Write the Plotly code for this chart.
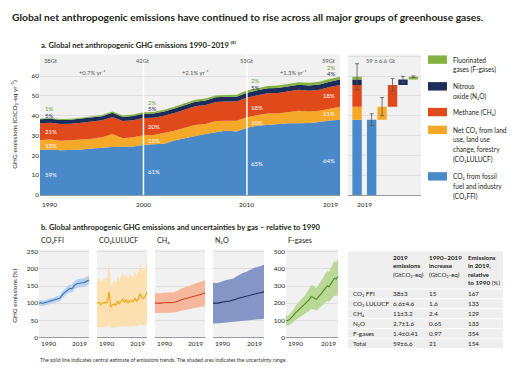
import plotly.graph_objects as go

# ---------------- data ----------------
years = list(range(1990, 2020))

co2_ffi = [22.7, 22.9, 22.6, 22.7, 22.9, 23.4, 23.9, 24.2, 24.3, 24.5,
           25.3, 25.6, 25.9, 27.5, 28.8, 29.8, 30.8, 31.8, 32.5, 32.1,
           34.0, 35.0, 35.5, 35.9, 36.2, 36.2, 36.3, 36.8, 37.6, 38.0]
co2_lulucf = [5.0, 5.1, 4.8, 4.9, 5.1, 5.0, 5.2, 6.6, 4.4, 4.7,
              4.9, 4.7, 5.3, 4.9, 5.2, 5.6, 5.1, 5.5, 5.0, 5.4,
              5.3, 5.2, 5.7, 5.3, 5.6, 6.4, 5.8, 5.7, 6.0, 6.6]
ch4 = [8.5, 8.5, 8.5, 8.4, 8.5, 8.6, 8.6, 8.6, 8.6, 8.6,
       8.7, 8.7, 8.8, 9.0, 9.2, 9.4, 9.5, 9.6, 9.7, 9.7,
       9.9, 10.0, 10.2, 10.3, 10.4, 10.5, 10.6, 10.7, 10.9, 11.0]
n2o = [2.03, 2.02, 2.02, 2.03, 2.06, 2.09, 2.12, 2.13, 2.14, 2.14,
       2.16, 2.18, 2.20, 2.26, 2.30, 2.33, 2.36, 2.40, 2.42, 2.43,
       2.48, 2.52, 2.54, 2.57, 2.60, 2.61, 2.63, 2.65, 2.68, 2.70]
f_gases = [0.40, 0.39, 0.42, 0.45, 0.50, 0.56, 0.60, 0.64, 0.67, 0.70,
           0.74, 0.78, 0.82, 0.88, 0.95, 0.94, 0.91, 0.89, 0.94, 0.98,
           1.04, 1.10, 1.14, 1.20, 1.18, 1.24, 1.32, 1.38, 1.36, 1.42]

# labels of panel a
share_years = [1990, 2000, 2010, 2019]
total_labels = [38, 42, 53, 59]
growth_rates = ["+0.7", "+2.1", "+1.3"]
share_ffi = [59, 61, 65, 64]
share_lulucf = [13, 12, 10, 11]
share_ch4 = [21, 20, 18, 18]
share_n2o = [5, 5, 5, 4]
share_f = [1, 2, 2, 2]

# 2019 values / table
table_gases = ["CO₂ FFI", "CO₂ LULUCF", "CH₄", "N₂O", "F-gases", "Total"]
emis_2019 = [38, 6.6, 11, 2.7, 1.4]
unc_2019 = [3, 4.6, 3.2, 1.6, 0.41]
total_2019 = 59
total_unc = 6.6
increase = ["15", "1.6", "2.4", "0.65", "0.97", "21"]
rel_1990 = [167, 133, 129, 133, 354, 154]

gas_titles = ["CO₂FFI", "CO₂LULUCF", "CH₄", "N₂O", "F-gases"]
legend_lines = [
    ["Fluorinated", "gases (F-gases)"],
    ["Nitrous", "oxide (N₂O)"],
    ["Methane (CH₄)"],
    ["Net CO₂ from land", "use, land use", "change, forestry", "(CO₂LULUCF)"],
    ["CO₂ from fossil", "fuel and industry", "(CO₂FFI)"],
]

# ---------------- style ----------------
W, H = 520, 378
FONT = "Lato"
TXT = "#231f20"
GRID = "#dedede"
BG = "#f1f1f1"
C_FFI, C_LUL, C_CH4, C_N2O, C_F = "#4a89c8", "#f6a828", "#e04a1b", "#1c2c5b", "#84b13f"
band_cols = ["#b9d1ec", "#fde0b0", "#f6b89c", "#8596c6", "#bad896"]
line_cols = ["#3a6fb5", "#f2a100", "#d4441a", "#1c2c5b", "#4e8a23"]


def fx(px):
    return px / W


def fy(py):
    return 1 - py / H


series = [co2_ffi, co2_lulucf, ch4, n2o, f_gases]
colors = [C_FFI, C_LUL, C_CH4, C_N2O, C_F]

fig = go.Figure()

# ---------------- panel a: stacked area ----------------
for vals, col in zip(series, colors):
    fig.add_trace(go.Scatter(x=years, y=vals, stackgroup="a", mode="lines",
                             line=dict(width=0, color=col), fillcolor=col,
                             showlegend=False, hoverinfo="skip",
                             xaxis="x", yaxis="y"))

# ---------------- panel a: waterfall ----------------
wf_pos = [0, 1.4, 2.4, 3.4, 4.4, 5.4]
for i, col in enumerate(colors):
    v = emis_2019[i]
    b = sum(emis_2019[:i])
    fig.add_trace(go.Bar(x=[wf_pos[0], wf_pos[i + 1]], y=[v, v], base=[b, b],
                         width=0.9, marker=dict(color=col, line=dict(width=0)),
                         showlegend=False, hoverinfo="skip",
                         xaxis="x2", yaxis="y2"))
tops = [sum(emis_2019)] + [sum(emis_2019[:i + 1]) for i in range(5)]
errs = [total_unc] + unc_2019
fig.add_trace(go.Scatter(x=wf_pos, y=tops, mode="markers",
                         marker=dict(size=1, color="rgba(0,0,0,0)"),
                         error_y=dict(type="data", array=errs, visible=True,
                                      color="#555555", thickness=0.8, width=2),
                         showlegend=False, hoverinfo="skip",
                         xaxis="x2", yaxis="y2"))

# ---------------- panel b ----------------
b_dom = [(39, 89), (97, 147), (155, 205), (213, 264), (286, 338)]
for k, vals in enumerate(series):
    ax = k + 3
    pct = [v / vals[0] * 100 for v in vals]
    u = unc_2019[k] / emis_2019[k]
    lo = [p * (1 - u) for p in pct]
    hi = [p * (1 + u) for p in pct]
    xa, ya = f"x{ax}", f"y{ax}"
    fig.add_trace(go.Scatter(x=years, y=lo, mode="lines", line=dict(width=0),
                             showlegend=False, hoverinfo="skip", xaxis=xa, yaxis=ya))
    fig.add_trace(go.Scatter(x=years, y=hi, mode="lines", line=dict(width=0),
                             fill="tonexty", fillcolor=band_cols[k],
                             showlegend=False, hoverinfo="skip", xaxis=xa, yaxis=ya))
    fig.add_trace(go.Scatter(x=years, y=pct, mode="lines",
                             line=dict(width=1.1, color=line_cols[k]),
                             showlegend=False, hoverinfo="skip", xaxis=xa, yaxis=ya))

# ---------------- axes ----------------
tickfont = dict(family=FONT, size=6.5, color=TXT)
top_dom = [fy(196), fy(54)]
b_ydom = [fy(340), fy(251)]
layout = dict(
    xaxis=dict(domain=[fx(40), fx(340)], range=[1990, 2019], showgrid=False,
               showticklabels=False, zeroline=False, showline=True,
               linecolor="#9a9a9a", linewidth=0.8, anchor="y", fixedrange=True),
    yaxis=dict(domain=top_dom, range=[0, 71], tickvals=list(range(0, 61, 10)),
               showgrid=True, gridcolor=GRID, gridwidth=0.7, zeroline=False,
               tickfont=tickfont, anchor="x", fixedrange=True),
    xaxis2=dict(domain=[fx(348), fx(421)], range=[-0.87, 6.13], showgrid=False,
                showticklabels=False, zeroline=False, showline=True,
                linecolor="#9a9a9a", linewidth=0.8, anchor="y2", fixedrange=True),
    yaxis2=dict(domain=top_dom, range=[0, 71], tickvals=list(range(0, 71, 10)),
                showgrid=True, gridcolor=GRID, gridwidth=0.7, zeroline=False,
                showticklabels=False, anchor="x2", fixedrange=True),
)
for k, (x0, x1) in enumerate(b_dom):
    ax = k + 3
    is_f = (k == 4)
    layout[f"xaxis{ax}"] = dict(domain=[fx(x0), fx(x1)], range=[1990, 2019],
                                showgrid=False, showticklabels=False, zeroline=False,
                                showline=True, linecolor="#9a9a9a", linewidth=0.8,
                                anchor=f"y{ax}", fixedrange=True)
    layout[f"yaxis{ax}"] = dict(domain=b_ydom,
                                range=[0, 514] if is_f else [0, 257],
                                tickvals=list(range(0, 501, 100)) if is_f else list(range(0, 251, 50)),
                                showticklabels=(k == 0 or is_f), tickfont=tickfont,
                                showgrid=True, gridcolor=GRID, gridwidth=0.7,
                                zeroline=False, anchor=f"x{ax}", fixedrange=True)

# ---------------- annotations ----------------
anns = []


def ann(text, x, y, size=6.5, color=TXT, xanchor="left", yanchor="middle",
        xref="paper", yref="paper", angle=0):
    if xref == "paper":
        x = fx(x)
    if yref == "paper":
        y = fy(y)
    anns.append(dict(text=text, x=x, y=y, xref=xref, yref=yref, xanchor=xanchor,
                     yanchor=yanchor, showarrow=False, textangle=angle,
                     font=dict(family=FONT, size=size, color=color)))


ann("<b>Global net anthropogenic emissions have continued to rise across all major groups of greenhouse gases.</b>",
    10, 16, size=10.3)
ann("<b>a. Global net anthropogenic GHG emissions 1990–2019 ⁽⁵⁾</b>", 39, 44, size=7.6)
ann("<b>b. Global anthropogenic GHG emissions and uncertainties by gas – relative to 1990</b>",
    39, 228, size=7.6)
ann("GHG emissions (GtCO₂-eq yr⁻¹)", 15, 125, size=6.5, xanchor="center", angle=-90)
ann("GHG emissions (%)", 15, 298, size=6.5, xanchor="center", angle=-90)
ann("The solid line indicates central estimate of emissions trends. The shaded area indicates the uncertainty range.",
    38, 363, size=5.2, color="#333333")

# panel a bottom ticks
for yr, anc in zip(share_years, ["left", "center", "center", "right"]):
    ann(str(yr), yr, 206, xref="x", xanchor=anc)
ann("2019", 0.7, 206, xref="x2", xanchor="center")

# panel a totals, rates, shares
for j, yr in enumerate(share_years):
    i = years.index(yr)
    f_, l_, c_, n_, g_ = (s[i] for s in series)
    tot = f_ + l_ + c_ + n_ + g_
    if j == 0:
        xl, anc, xt, anct = yr + 0.25, "left", yr + 0.2, "left"
    elif j == len(share_years) - 1:
        xl, anc, xt, anct = yr - 0.25, "right", yr - 0.2, "right"
    else:
        xl, anc, xt, anct = yr + 0.25, "left", yr, "center"
    ann(f"{total_labels[j]}Gt", xt, 68, size=5.8, color="#555555", xref="x", yref="y", xanchor=anct)
    ann(f"{share_ffi[j]}%", xl, 0.46 * f_, size=6, color="white", xref="x", yref="y", xanchor=anc)
    ann(f"{share_lulucf[j]}%", xl, f_ + l_ / 2, size=6, color="white", xref="x", yref="y", xanchor=anc)
    ann(f"{share_ch4[j]}%", xl, f_ + l_ + c_ / 2, size=6, color="white", xref="x", yref="y", xanchor=anc)
    ann(f"{share_n2o[j]}%", xl, tot + 1.7, size=6, color=C_N2O, xref="x", yref="y", xanchor=anc)
    ann(f"{share_f[j]}%", xl, tot + 4.9, size=6, color="#6aa132", xref="x", yref="y", xanchor=anc)
for j, r in enumerate(growth_rates):
    xm = (share_years[j] + share_years[j + 1]) / 2
    ann(f"{r}% yr⁻¹", xm, 62, size=5.8, color="#555555", xref="x", yref="y", xanchor="center")
ann(f"{total_2019} ± {total_unc} Gt", 381, 60, size=5.8, color="#555555", xanchor="center")

# panel b titles and ticks
for k, (x0, x1) in enumerate(b_dom):
    ann(gas_titles[k], x0, 242, size=7.2)
    ann("1990", x0, 346, size=6.5)
    ann("2019", x1, 346, size=6.5, xanchor="right")

# ---------------- shapes ----------------
shapes = []
for yr in share_years[1:3]:
    shapes.append(dict(type="line", xref="x", yref="y", x0=yr, x1=yr, y0=0, y1=71,
                       line=dict(color="white", width=1.5), layer="above"))

# legend
sw_top = [55, 82, 108, 126, 173]
for col, top, lines in zip(colors[::-1], sw_top, legend_lines):
    shapes.append(dict(type="rect", xref="paper", yref="paper", x0=fx(428), x1=fx(447),
                       y0=fy(top + 8.5), y1=fy(top), fillcolor=col, line=dict(width=0)))
    for n, t in enumerate(lines):
        ann(t, 451, top + 4.3 + 10 * n, size=6.6)

# table
tx0, tx1 = 348, 503
ty0 = 253
row_y0 = 291
row_h = 10
shapes.append(dict(type="rect", xref="paper", yref="paper", x0=fx(tx0), x1=fx(tx1),
                   y0=fy(row_y0 + 6 * row_h), y1=fy(ty0), fillcolor="#eeeeee",
                   line=dict(width=0), layer="below"))
for r in range(6):
    yline = row_y0 + r * row_h
    shapes.append(dict(type="line", xref="paper", yref="paper", x0=fx(tx0), x1=fx(tx1),
                       y0=fy(yline), y1=fy(yline), line=dict(color="white", width=1)))
col_x = [351, 391, 427, 466]
hdr = [
    ["<b>2019</b>", "<b>emissions</b>", "(GtCO₂-eq)"],
    ["<b>1990–2019</b>", "<b>increase</b>", "(GtCO₂-eq)"],
    ["<b>Emissions</b>", "<b>in 2019,</b>", "<b>relative</b>", "<b>to 1990</b> (%)"],
]
for c, lines in enumerate(hdr):
    for n, t in enumerate(lines):
        ann(t, col_x[c + 1], 259 + 8.6 * n, size=6.3)
emis_text = [f"{v:g}±{u:g}" for v, u in zip(emis_2019, unc_2019)] + [f"{total_2019:g}±{total_unc:g}"]
for r in range(6):
    yc = row_y0 + r * row_h + row_h / 2
    ann(table_gases[r], col_x[0], yc, size=6.3)
    ann(emis_text[r], col_x[1], yc, size=6.3)
    ann(increase[r], col_x[2], yc, size=6.3)
    ann(str(rel_1990[r]), col_x[3], yc, size=6.3)

fig.update_layout(
    **layout,
    width=W, height=H, margin=dict(l=0, r=0, t=0, b=0),
    paper_bgcolor="white", plot_bgcolor=BG,
    barmode="overlay", showlegend=False,
    font=dict(family=FONT, size=6.5, color=TXT),
    annotations=anns, shapes=shapes,
)

fig.write_html("out.html", config={"displayModeBar": False},
               post_script="document.body.style.margin='0';")
